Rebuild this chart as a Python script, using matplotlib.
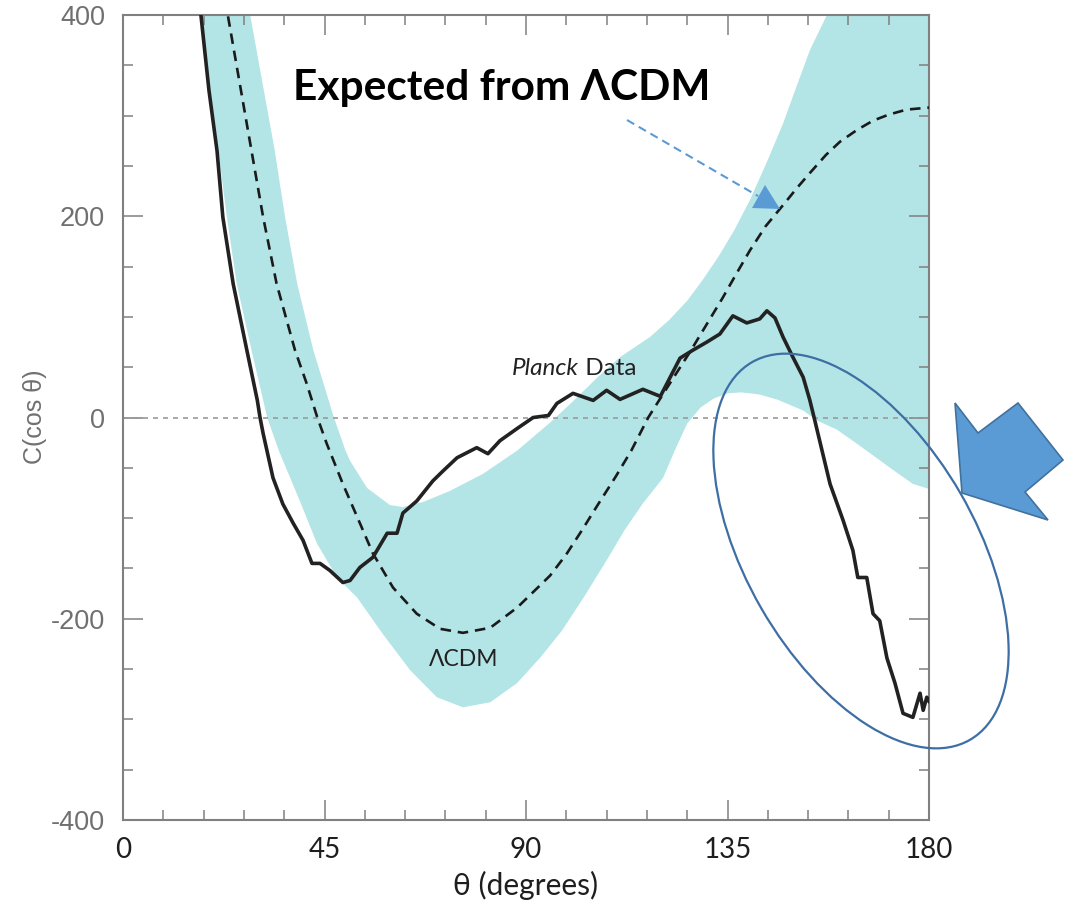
import numpy as np
import matplotlib
matplotlib.use('Agg')
import matplotlib.pyplot as plt
from matplotlib.lines import Line2D
from matplotlib.patches import Ellipse, Polygon
from matplotlib.ticker import MultipleLocator

plt.rcParams['axes.unicode_minus'] = False

# Planck two-point angular correlation (solid curve)
planck_theta = [17.0, 17.4, 19.2, 21.0, 22.3, 24.6, 27.7, 30.0, 30.6, 31.3, 33.5, 35.7, 38.0,
                40.2, 42.2, 44.0, 46.2, 49.1, 50.7, 52.9, 55.8, 59.0, 61.2, 62.5, 65.6,
                69.2, 71.5, 74.6, 79.0, 81.5, 84.2, 88.0, 91.6, 95.0, 96.9, 100.5, 105.0,
                108.0, 111.0, 116.1, 120.0, 122.2, 124.4, 127.3, 130.4, 133.3, 136.2,
                139.3, 142.2, 143.8, 145.6, 147.4, 149.6, 151.9, 153.4, 154.5, 157.9,
                160.8, 163.0, 164.1, 166.1, 167.5, 169.0, 170.6, 172.4, 174.2, 176.4,
                178.0, 178.7, 179.5, 180.0]
planck_c = [420, 400, 325, 265, 199, 133, 66, 17, 0, -16, -60, -86, -105,
            -122, -145, -145, -152, -164, -162, -149, -139, -115, -115, -95, -83,
            -63, -53, -40, -30, -36, -23, -11, 0, 2, 14, 24, 17,
            27, 18, 28, 21, 40, 59, 67, 75, 83, 101,
            94, 98, 106, 99, 80, 60, 40, 17, -3, -66,
            -102, -132, -159, -159, -195, -202, -239, -264, -294, -298,
            -274, -291, -278, -282]

# LambdaCDM expectation (dashed curve)
lcdm_theta = [22.8, 23.4, 28.7, 31.3, 34.3, 38.4, 41.0, 43.4, 45.5, 49.1, 52.9, 55.8,
              60.3, 65.6, 70.8, 75.9, 82.0, 88.0, 93.1, 95.4, 99.0, 102.5, 106.0,
              110.0, 113.5, 117.3, 120.0, 123.0, 126.6, 130.0, 133.8, 137.0, 140.0,
              143.5, 147.4, 150.5, 153.4, 157.0, 160.1, 164.0, 167.5, 171.0, 175.0, 180.0]
lcdm_c = [430, 400, 265, 199, 133, 67, 34, 0, -26, -66, -105, -135,
          -169, -195, -210, -214, -209, -189, -167, -157, -136, -112, -87,
          -59, -33, 0, 19, 40, 65, 90, 118, 143, 166,
          190, 211, 228, 243, 261, 274, 286, 295, 301, 306, 308]

# cosmic-variance band, upper and lower edges
band_hi_theta = [27.5, 28.4, 33.9, 36.2, 38.9, 42.5, 47.1, 49.7, 50.7, 54.5, 59.6, 62.5,
                 67.0, 73.0, 80.4, 88.0, 95.4, 100.0, 106.0, 111.0, 117.7, 122.0, 126.0,
                 129.5, 133.0, 136.5, 140.0, 143.8, 147.4, 150.5, 153.4, 157.2, 160.0,
                 165.0, 180.0]
band_hi = [430, 400, 265, 199, 133, 67, 0, -33, -43, -70, -87, -89,
           -84, -73, -56, -33, -5, 14, 40, 60, 80, 97, 116,
           137, 160, 186, 216, 254, 292, 330, 365, 400, 435,
           495, 640]
band_lo_theta = [16.8, 17.2, 21.3, 23.2, 25.4, 28.7, 32.2, 34.8, 39.5, 43.3, 47.8, 52.3,
                 58.0, 64.1, 70.1, 75.9, 82.0, 88.0, 93.1, 98.0, 103.0, 108.0, 112.0,
                 116.0, 120.6, 123.5, 126.0, 129.0, 132.0, 135.0, 138.0, 142.0, 146.0,
                 151.9, 155.0, 159.4, 163.9, 167.0, 171.3, 176.4, 180.0]
band_lo = [430, 400, 265, 199, 133, 67, 0, -33, -83, -125, -159, -179,
           -215, -251, -278, -288, -283, -264, -239, -212, -178, -142, -112,
           -86, -60, -30, -6, 10, 19, 24, 25, 23, 18,
           7, -3, -12, -26, -36, -50, -66, -71]

x_ticks = [0, 45, 90, 135, 180]
y_ticks = [-400, -200, 0, 200, 400]

W, H = 1076, 909
fig = plt.figure(figsize=(W / 100, H / 100), dpi=100)
ax = fig.add_axes([123 / W, 1 - 820 / H, 806 / W, 805 / H])


def px(x, y):
    # figure pixel (from top-left) -> inches for dpi_scale_trans
    return (x / 100, (H - y) / 100)


ax.fill(np.r_[band_hi_theta, band_lo_theta[::-1]], np.r_[band_hi, band_lo[::-1]],
        color='#b3e4e6', lw=0, zorder=1)
ax.axhline(0, color='#9a9a9a', lw=1.2, ls=(0, (3, 3)), zorder=2)
ax.plot(lcdm_theta, lcdm_c, color='#1a1a1a', lw=1.9, ls=(0, (4, 2.6)), zorder=3)
ax.plot(planck_theta, planck_c, color='#222222', lw=2.6, zorder=4,
        solid_joinstyle='round')

ax.set_xlim(0, 180)
ax.set_ylim(-400, 400)
ax.set_xticks(x_ticks)
ax.set_yticks(y_ticks)
ax.xaxis.set_minor_locator(MultipleLocator(9))
ax.yaxis.set_minor_locator(MultipleLocator(50))
ax.tick_params(which='both', direction='in', top=True, right=True, color='#808080', width=1.1)
ax.tick_params(which='major', length=14.5)
ax.tick_params(which='minor', length=7.2)
ax.tick_params(axis='x', pad=12, labelsize=20, labelcolor='#1e1e1e')
ax.tick_params(axis='y', pad=13, labelsize=19.5, labelcolor='#707070')
for lab in ax.get_xticklabels():
    lab.set_family(['Lato', 'DejaVu Sans'])
for lab in ax.get_yticklabels():
    lab.set_family('Liberation Sans')
for sp in ax.spines.values():
    sp.set_color('#808080')
    sp.set_linewidth(1.5)

fig.text(526 / W, 1 - 885 / H, 'θ (degrees)', ha='center', va='center', fontsize=21.5,
         color='#1e1e1e', family=['Lato', 'DejaVu Sans'])
fig.text(35 / W, 1 - 417 / H, 'C(cos θ)', ha='center', va='center', rotation=90,
         fontsize=18, color='#707070', family='Liberation Sans')

t = ax.text(86.9, 38, 'Planck', style='italic', fontsize=17.5, color='#222222',
            family=['Lato', 'DejaVu Sans'], va='bottom')
ax.annotate(' Data', xy=(1, 0), xycoords=t, va='bottom', ha='left', fontsize=17.5,
            color='#222222', family=['Lato', 'DejaVu Sans'])
ax.text(76.1, -240, 'ΛCDM', ha='center', va='center', fontsize=16.5, color='#222222',
        family=['Lato', 'DejaVu Sans'])

fig.text(293 / W, 1 - 88 / H, 'Expected from ΛCDM', ha='left', va='center',
         fontsize=30.5, fontweight='bold', color='black', family=['Lato', 'DejaVu Sans'])

# dashed pointer towards the dashed curve
tr = fig.dpi_scale_trans
shaft = np.array([px(627, 120), px(758, 196)])
fig.add_artist(Line2D(shaft[:, 0], shaft[:, 1], transform=tr, color='#5b9bd5',
                      lw=1.5, ls=(0, (4, 2.5))))
fig.add_artist(Polygon([px(780, 209), px(765, 185), px(752, 208)], closed=True,
                       transform=tr, facecolor='#5b9bd5', edgecolor='none'))

# ellipse around the large-angle data
cx, cy = px(861, 551)
fig.add_artist(Ellipse((cx, cy), 2 * 2.18, 2 * 1.15, angle=-60, transform=tr,
                       fill=False, edgecolor='#3d6fa5', lw=1.6))

# block arrow pointing at the ellipse
arrow_pts = [px(955, 403), px(978, 433), px(1018, 403), px(1063, 460),
             px(1025, 492), px(1048, 520), px(962, 493)]
fig.add_artist(Polygon(arrow_pts, closed=True, transform=tr, facecolor='#5b9bd5',
                       edgecolor='#41719c', lw=1.2))

fig.savefig('out.png', dpi=100)
